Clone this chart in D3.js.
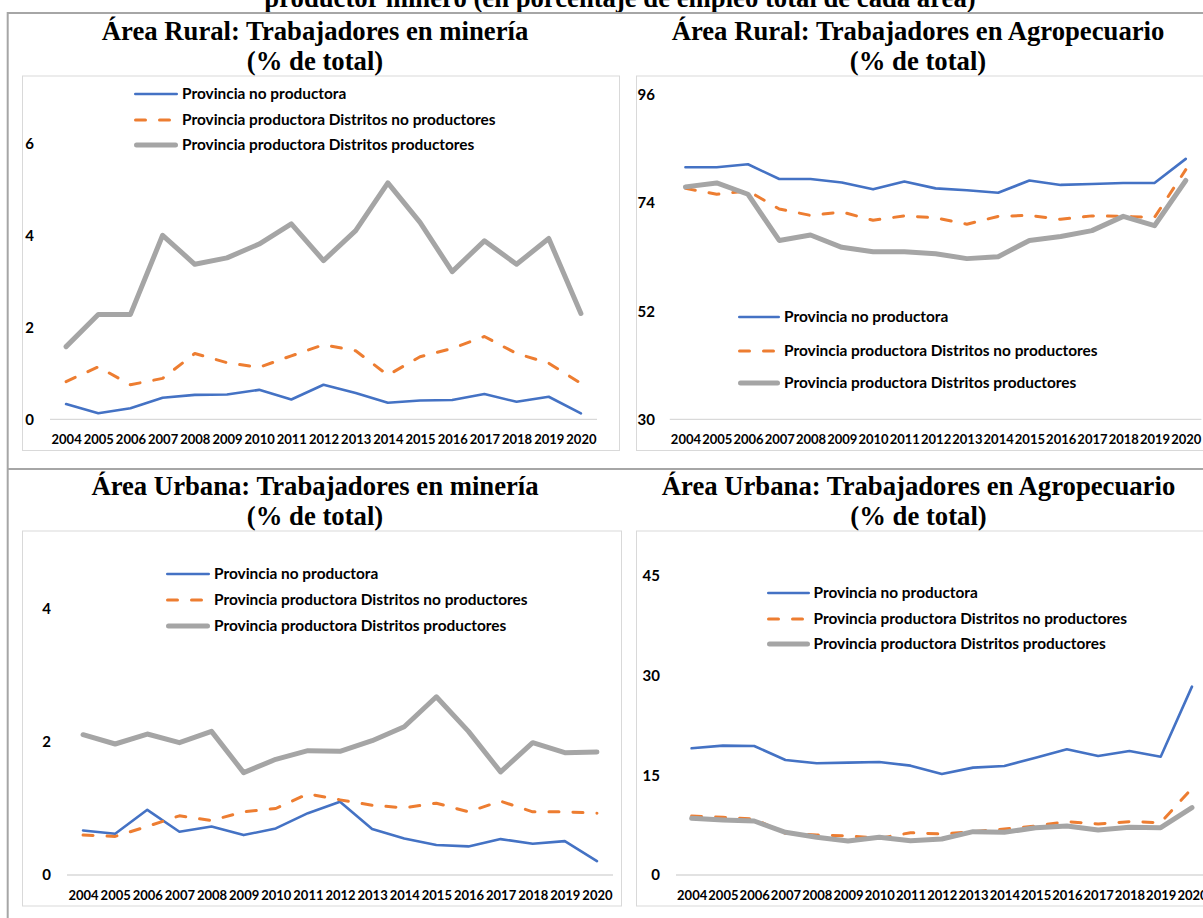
<!DOCTYPE html>
<html>
<head>
<meta charset="utf-8">
<script src="https://cdn.jsdelivr.net/npm/d3@7"></script>
<style>
  body { margin: 0; background: #fff; }
</style>
</head>
<body>
<script>
const years = ["2004", "2005", "2006", "2007", "2008", "2009", "2010", "2011", "2012",
  "2013", "2014", "2015", "2016", "2017", "2018", "2019", "2020"];

const seriesNames = [
  "Provincia no productora",
  "Provincia productora Distritos no productores",
  "Provincia productora Distritos productores",
];

// Área Rural: minería
const ruralMinNoProd = [0.33, 0.13, 0.24, 0.47, 0.53, 0.54, 0.64, 0.43, 0.75, 0.57, 0.36, 0.41, 0.42, 0.55, 0.38, 0.49, 0.13];
const ruralMinDistNoProd = [0.82, 1.14, 0.75, 0.89, 1.43, 1.23, 1.13, 1.38, 1.62, 1.49, 0.96, 1.36, 1.54, 1.80, 1.43, 1.22, 0.78];
const ruralMinDistProd = [1.58, 2.28, 2.28, 4.00, 3.37, 3.51, 3.81, 4.25, 3.45, 4.10, 5.14, 4.28, 3.21, 3.88, 3.37, 3.93, 2.30];
const ruralMinTicks = [0, 2, 4, 6];

// Área Rural: agropecuario
const ruralAgroNoProd = [81.3, 81.3, 81.9, 78.9, 78.9, 78.2, 76.8, 78.4, 77.0, 76.6, 76.1, 78.6, 77.7, 77.9, 78.1, 78.1, 83.0];
const ruralAgroDistNoProd = [77.0, 75.8, 76.5, 72.8, 71.5, 72.2, 70.5, 71.4, 71.0, 69.7, 71.3, 71.5, 70.7, 71.4, 71.3, 71.1, 80.8];
const ruralAgroDistProd = [77.3, 78.1, 75.8, 66.4, 67.5, 65.0, 64.1, 64.1, 63.7, 62.7, 63.1, 66.4, 67.2, 68.4, 71.3, 69.4, 78.6];
const ruralAgroTicks = [30, 52, 74, 96];

// Área Urbana: minería
const urbMinNoProd = [0.67, 0.62, 0.98, 0.65, 0.73, 0.60, 0.70, 0.93, 1.10, 0.69, 0.55, 0.45, 0.43, 0.54, 0.47, 0.51, 0.21];
const urbMinDistNoProd = [0.60, 0.58, 0.73, 0.89, 0.82, 0.95, 1.00, 1.22, 1.13, 1.05, 1.01, 1.08, 0.95, 1.11, 0.95, 0.95, 0.93];
const urbMinDistProd = [2.11, 1.97, 2.12, 1.99, 2.16, 1.54, 1.74, 1.87, 1.86, 2.02, 2.23, 2.68, 2.16, 1.55, 1.99, 1.84, 1.85];
const urbMinTicks = [0, 2, 4];

// Área Urbana: agropecuario
const urbAgroNoProd = [19.07, 19.47, 19.42, 17.31, 16.81, 16.91, 17.01, 16.46, 15.20, 16.16, 16.41, 17.66, 18.92, 17.91, 18.67, 17.81, 28.35];
const urbAgroDistNoProd = [8.88, 8.68, 8.43, 6.27, 6.02, 5.87, 5.52, 6.37, 6.17, 6.52, 6.92, 7.38, 8.03, 7.68, 8.03, 7.88, 13.05];
const urbAgroDistProd = [8.53, 8.28, 8.13, 6.42, 5.67, 5.12, 5.67, 5.17, 5.42, 6.52, 6.42, 7.12, 7.38, 6.77, 7.18, 7.12, 10.14];
const urbAgroTicks = [0, 15, 30, 45];

const colors = ["#4472C4", "#ED7D31", "#A5A5A5"];
const lineWidths = [2.6, 3, 5];
const lineDashes = [null, "10,14", null];

const serif = "'Liberation Serif', 'Times New Roman', serif";
const sans = "Lato, Carlito, Calibri, sans-serif";

const svg = d3.select("body").append("svg")
  .attr("width", 1203)
  .attr("height", 918)
  .style("display", "block")
  .style("background", "#fff");

// heading of the page, cut at the top
svg.append("text")
  .text("productor minero (en porcentaje de empleo total de cada área)")
  .attr("x", 620)
  .attr("y", 7)
  .attr("text-anchor", "middle")
  .attr("font-family", serif)
  .attr("font-weight", "bold")
  .attr("font-size", 26.7)
  .attr("fill", "#000");

// table borders
svg.append("line").attr("x1", 7.7).attr("x2", 7.7).attr("y1", 12).attr("y2", 918)
  .attr("stroke", "#a6a6a6").attr("stroke-width", 2);
[13, 469].forEach((y) => {
  svg.append("line").attr("x1", 7).attr("x2", 1203).attr("y1", y).attr("y2", y)
    .attr("stroke", "#a6a6a6").attr("stroke-width", 2);
});

function drawPanel(p) {
  const g = svg.append("g");

  g.selectAll("text.title")
    .data(p.title)
    .join("text")
    .attr("class", "title")
    .text((d) => d)
    .attr("x", p.cx)
    .attr("y", (d, i) => p.titleY[i])
    .attr("text-anchor", "middle")
    .attr("font-family", serif)
    .attr("font-weight", "bold")
    .attr("font-size", 26.7)
    .attr("fill", "#000");

  // chart frame
  g.append("rect")
    .attr("x", p.frame[0])
    .attr("y", p.frame[1])
    .attr("width", p.frame[2] - p.frame[0])
    .attr("height", p.frame[3] - p.frame[1])
    .attr("fill", "#fff")
    .attr("stroke", "#d9d9d9")
    .attr("stroke-width", 1);

  const x = d3.scalePoint().domain(years).range(p.xRange).padding(0.5);
  const y = d3.scaleLinear().domain(p.yDomain).range(p.yRange);
  const y0 = y(p.yDomain[0]);

  // baseline
  g.append("line")
    .attr("x1", p.xRange[0]).attr("x2", p.xRange[1])
    .attr("y1", y0).attr("y2", y0)
    .attr("stroke", "#d9d9d9")
    .attr("stroke-width", 1.3);

  const xAxis = g.append("g")
    .attr("transform", `translate(0,${y0})`)
    .call(d3.axisBottom(x).tickSize(0).tickPadding(15.5));
  xAxis.select(".domain").remove();
  xAxis.selectAll("text")
    .attr("font-family", sans)
    .attr("font-weight", "bold")
    .attr("font-size", 13)
    .attr("fill", "#000");

  const yAxis = g.append("g")
    .attr("transform", `translate(${p.tickRight},0)`)
    .call(d3.axisLeft(y).tickValues(p.ticks).tickFormat(d3.format("d")).tickSize(0).tickPadding(0));
  yAxis.select(".domain").remove();
  yAxis.selectAll("text")
    .attr("font-family", sans)
    .attr("font-weight", "bold")
    .attr("font-size", 15)
    .attr("fill", "#000");

  const line = d3.line()
    .x((d, i) => x(years[i]))
    .y((d) => y(d));

  p.series.forEach((s, k) => {
    g.append("path")
      .datum(s)
      .attr("d", line)
      .attr("fill", "none")
      .attr("stroke", colors[k])
      .attr("stroke-width", lineWidths[k])
      .attr("stroke-dasharray", lineDashes[k])
      .attr("stroke-linecap", "round")
      .attr("stroke-linejoin", "round");
  });

  // legend
  seriesNames.forEach((name, k) => {
    const ly = p.legend.ys[k];
    g.append("line")
      .attr("x1", p.legend.x0 + lineWidths[k] / 2)
      .attr("x2", p.legend.x1 - lineWidths[k] / 2)
      .attr("y1", ly).attr("y2", ly)
      .attr("stroke", colors[k])
      .attr("stroke-width", lineWidths[k])
      .attr("stroke-dasharray", lineDashes[k])
      .attr("stroke-linecap", "round");
    g.append("text")
      .text(name)
      .attr("x", p.legend.tx)
      .attr("y", ly)
      .attr("dy", "0.35em")
      .attr("font-family", sans)
      .attr("font-weight", "bold")
      .attr("font-size", 15.4)
      .attr("fill", "#000");
  });
}

drawPanel({
  title: ["Área Rural: Trabajadores en minería", "(% de total)"],
  cx: 315, titleY: [40, 69.5],
  frame: [22.5, 76, 619.5, 450.5],
  xRange: [50, 597], yDomain: [0, 6], yRange: [419.3, 143.3],
  ticks: ruralMinTicks, tickRight: 34,
  series: [ruralMinNoProd, ruralMinDistNoProd, ruralMinDistProd],
  legend: { x0: 134, x1: 178, tx: 182, ys: [94, 120, 145] },
});

drawPanel({
  title: ["Área Rural: Trabajadores en Agropecuario", "(% de total)"],
  cx: 918, titleY: [40, 69.5],
  frame: [636.5, 76, 1215, 450.5],
  xRange: [669.8, 1201.4], yDomain: [30, 96], yRange: [419.3, 95],
  ticks: ruralAgroTicks, tickRight: 655,
  series: [ruralAgroNoProd, ruralAgroDistNoProd, ruralAgroDistProd],
  legend: { x0: 738, x1: 780, tx: 784, ys: [317, 351, 383] },
});

drawPanel({
  title: ["Área Urbana: Trabajadores en minería", "(% de total)"],
  cx: 315, titleY: [495, 524.5],
  frame: [22.5, 531, 621.5, 906],
  xRange: [67, 613], yDomain: [0, 4], yRange: [875, 609],
  ticks: urbMinTicks, tickRight: 51,
  series: [urbMinNoProd, urbMinDistNoProd, urbMinDistProd],
  legend: { x0: 166, x1: 210, tx: 214, ys: [574, 600, 626] },
});

drawPanel({
  title: ["Área Urbana: Trabajadores en Agropecuario", "(% de total)"],
  cx: 918.5, titleY: [495, 524.5],
  frame: [636.5, 531, 1215, 906],
  xRange: [676, 1207.6], yDomain: [0, 45], yRange: [875, 576],
  ticks: urbAgroTicks, tickRight: 660,
  series: [urbAgroNoProd, urbAgroDistNoProd, urbAgroDistProd],
  legend: { x0: 767, x1: 810, tx: 813.5, ys: [593, 619, 644] },
});
</script>
</body>
</html>
